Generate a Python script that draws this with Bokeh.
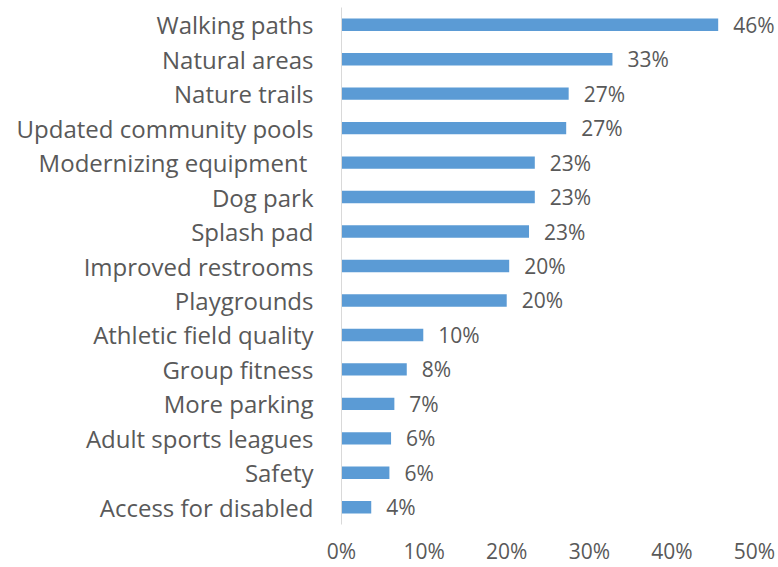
from bokeh.plotting import figure
from bokeh.models import ColumnDataSource, FactorRange, FixedTicker, PrintfTickFormatter, Range1d, LabelSet
from bokeh.core.properties import value
from bokeh.embed import file_html
from bokeh.resources import INLINE

categories = ["Walking paths", "Natural areas", "Nature trails", "Updated community pools",
              "Modernizing equipment ", "Dog park", "Splash pad", "Improved restrooms",
              "Playgrounds", "Athletic field quality", "Group fitness", "More parking",
              "Adult sports leagues", "Safety", "Access for disabled"]
values = [45.6, 32.8, 27.5, 27.2, 23.4, 23.4, 22.7, 20.3, 20.0, 9.9, 7.9, 6.4, 6.0, 5.8, 3.6]
labels = ["46%", "33%", "27%", "27%", "23%", "23%", "23%", "20%", "20%",
          "10%", "8%", "7%", "6%", "6%", "4%"]
x_ticks = [0, 10, 20, 30, 40, 50]

FONT = "Open Sans"
TXT = "#595959"
BAR = "#5B9BD5"

src = ColumnDataSource(dict(cat=categories, val=values, lab=labels))

p = figure(width=778, height=567, output_backend="svg", toolbar_location=None,
           y_range=FactorRange(factors=list(reversed(categories))),
           x_range=Range1d(0, 52.9),
           min_border_left=341, min_border_right=0, min_border_top=7, min_border_bottom=0)

p.hbar(y="cat", right="val", left=0, height=0.36, source=src, color=BAR, line_color=None)
p.add_layout(LabelSet(x="val", y="cat", text="lab", source=src, x_offset=15,
                      text_baseline="middle", text_align="left", text_font=value(FONT),
                      text_font_size="21px", text_color=TXT))

p.outline_line_color = None
p.grid.grid_line_color = None
p.background_fill_color = "white"
p.border_fill_color = "white"

xa = p.xaxis[0]
xa.ticker = FixedTicker(ticks=x_ticks)
xa.formatter = PrintfTickFormatter(format="%d%%")
xa.axis_line_color = None
xa.major_tick_line_color = None
xa.minor_tick_line_color = None
xa.major_tick_out = 0
xa.major_tick_in = 0
xa.major_label_text_font = FONT
xa.major_label_text_font_size = "21px"
xa.major_label_text_color = TXT
xa.major_label_standoff = 12

ya = p.yaxis[0]
ya.axis_line_color = "#D9D9D9"
ya.axis_line_width = 1
ya.major_tick_line_color = None
ya.minor_tick_line_color = None
ya.major_tick_out = 0
ya.major_tick_in = 0
ya.major_label_text_font = FONT
ya.major_label_text_font_size = "24px"
ya.major_label_text_color = TXT
ya.major_label_standoff = 28

open("out.html", "w").write(file_html(p, INLINE))
